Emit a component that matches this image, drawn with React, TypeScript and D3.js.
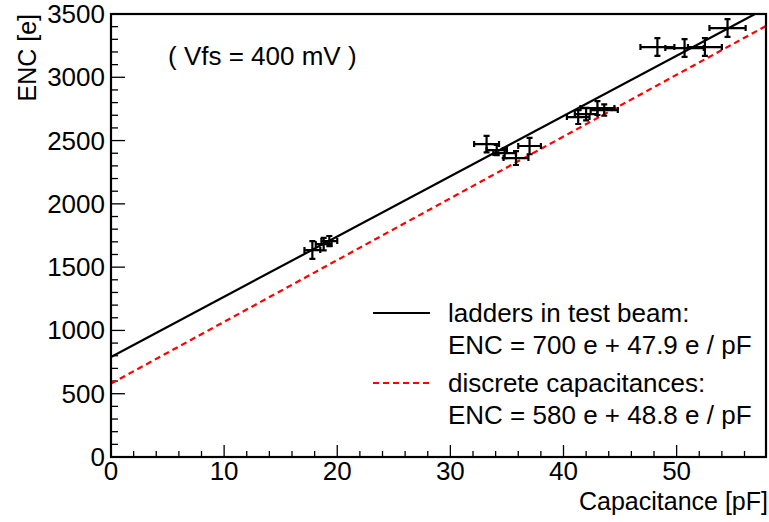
import { useEffect, useRef } from "react";
import * as d3 from "d3";

// measured points: capacitance [pF], ENC [e], errors
const capacitance = [17.8, 18.8, 19.3, 33.2, 34.1, 34.8, 35.8, 37.0, 41.3, 42.0, 43.0, 43.6, 48.3, 50.7, 52.5, 54.5];
const encValues = [1635, 1682, 1706, 2472, 2425, 2401, 2362, 2457, 2686, 2709, 2757, 2741, 3239, 3231, 3239, 3389];
const capErr = [0.7, 0.7, 0.7, 1.1, 0.9, 1.0, 1.1, 1.0, 1.0, 1.0, 1.5, 1.2, 1.5, 1.7, 1.5, 1.6];
const encErr = [70, 50, 40, 65, 40, 40, 55, 65, 55, 50, 55, 45, 70, 70, 70, 70];

const xTicks = [0, 10, 20, 30, 40, 50];
const yTicks = [0, 500, 1000, 1500, 2000, 2500, 3000, 3500];

// fitted lines: [intercept, slope]
const fitBeam = [790, 47.6];
const fitDiscrete = [580, 48.8];

const legendLabels = [
  ["ladders in test beam:", "ENC = 700 e + 47.9 e / pF"],
  ["discrete capacitances:", "ENC = 580 e + 48.8 e / pF"],
];

export default function App() {
  const ref = useRef(null);

  useEffect(() => {
    const width = 769;
    const height = 522;
    const left = 111, right = 766, top = 14, bottom = 457;
    const font = "'Liberation Sans', Arial, Helvetica, sans-serif";

    const svg = d3.select(ref.current);
    svg.selectAll("*").remove();
    svg.attr("width", width).attr("height", height)
      .attr("viewBox", [0, 0, width, height])
      .style("font-family", font);

    svg.append("rect").attr("width", width).attr("height", height).attr("fill", "white");

    const x = d3.scaleLinear([0, 57.9], [left, right]);
    const y = d3.scaleLinear([0, 3500], [bottom, top]);

    svg.append("clipPath").attr("id", "plot-clip")
      .append("rect").attr("x", left).attr("y", top)
      .attr("width", right - left).attr("height", bottom - top);

    // minor + major ticks, x
    const gx = svg.append("g");
    d3.range(0, 58, 2).forEach(v => {
      const major = v % 10 === 0;
      gx.append("line")
        .attr("x1", x(v)).attr("x2", x(v))
        .attr("y1", bottom).attr("y2", bottom - (major ? 12 : 6))
        .attr("stroke", "black").attr("stroke-width", 1.3);
    });
    gx.selectAll("text").data(xTicks).join("text")
      .attr("x", d => x(d)).attr("y", bottom + 23)
      .attr("text-anchor", "middle")
      .attr("font-size", 26)
      .text(d => d);

    // y ticks
    const gy = svg.append("g");
    d3.range(0, 3501, 100).forEach(v => {
      const major = v % 500 === 0;
      gy.append("line")
        .attr("x1", left).attr("x2", left + (major ? 14 : 7))
        .attr("y1", y(v)).attr("y2", y(v))
        .attr("stroke", "black").attr("stroke-width", 1.3);
    });
    gy.selectAll("text").data(yTicks).join("text")
      .attr("x", left - 6).attr("y", d => y(d) + 9)
      .attr("text-anchor", "end")
      .attr("font-size", 26)
      .text(d => d);

    // axis titles
    svg.append("text")
      .attr("x", right + 2).attr("y", 510)
      .attr("text-anchor", "end")
      .attr("font-size", 25)
      .text("Capacitance [pF]");
    svg.append("text")
      .attr("transform", `translate(36,${top}) rotate(-90)`)
      .attr("text-anchor", "end")
      .attr("font-size", 25)
      .text("ENC [e]");

    // fit lines
    const plot = svg.append("g").attr("clip-path", "url(#plot-clip)");
    const fitLine = ([a, b]) => d3.line()([[x(0), y(a)], [x(60), y(a + b * 60)]]);
    plot.append("path")
      .attr("d", fitLine(fitDiscrete))
      .attr("stroke", "#ff0000").attr("stroke-width", 2.2)
      .attr("stroke-dasharray", "6,4").attr("fill", "none");
    plot.append("path")
      .attr("d", fitLine(fitBeam))
      .attr("stroke", "black").attr("stroke-width", 2.2).attr("fill", "none");

    // data points with error bars
    const pts = plot.selectAll("g.pt").data(capacitance.map((c, i) => ({
      c, e: encValues[i], dc: capErr[i], de: encErr[i],
    }))).join("g").attr("class", "pt");
    const cap = 3;
    pts.append("path")
      .attr("d", d => {
        const x0 = x(d.c - d.dc), x1 = x(d.c + d.dc), cx = x(d.c);
        const y0 = y(d.e - d.de), y1 = y(d.e + d.de), cy = y(d.e);
        return `M${x0},${cy}H${x1}M${cx},${y0}V${y1}` +
          `M${x0},${cy - cap}V${cy + cap}M${x1},${cy - cap}V${cy + cap}` +
          `M${cx - cap},${y0}H${cx + cap}M${cx - cap},${y1}H${cx + cap}`;
      })
      .attr("stroke", "black").attr("stroke-width", 2.2).attr("fill", "none");

    // frame
    svg.append("rect")
      .attr("x", left).attr("y", top)
      .attr("width", right - left).attr("height", bottom - top)
      .attr("fill", "none").attr("stroke", "black").attr("stroke-width", 2.2);

    // annotation
    svg.append("text")
      .attr("x", 168).attr("y", 65)
      .attr("font-size", 26)
      .text("( Vfs = 400 mV )");

    // legend
    const legendY = [313, 383];
    const styles = [
      { stroke: "black", dash: null },
      { stroke: "#ff0000", dash: "6,4" },
    ];
    legendLabels.forEach((lines, i) => {
      svg.append("line")
        .attr("x1", 373).attr("x2", 430)
        .attr("y1", legendY[i]).attr("y2", legendY[i])
        .attr("stroke", styles[i].stroke).attr("stroke-width", 2.2)
        .attr("stroke-dasharray", styles[i].dash);
      lines.forEach((t, j) => {
        svg.append("text")
          .attr("x", 448).attr("y", legendY[i] + 9 + j * 32)
          .attr("font-size", 26)
          .text(t);
      });
    });
  }, []);

  return (
    <svg ref={ref} style={{ position: "absolute", left: 0, top: 0, display: "block" }}></svg>
  );
}
